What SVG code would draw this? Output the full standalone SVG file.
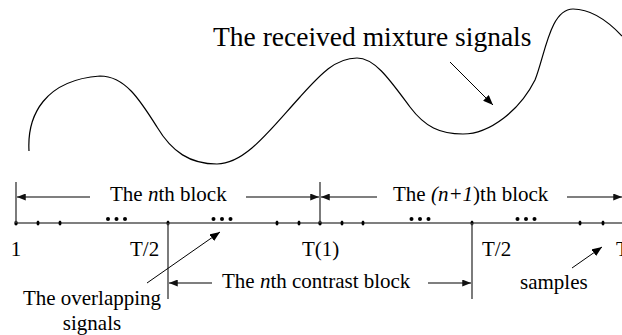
<svg xmlns="http://www.w3.org/2000/svg" width="622" height="335" viewBox="0 0 622 335">
<defs>
<marker id="ah" viewBox="0 0 10 8" refX="10" refY="4" markerWidth="10" markerHeight="8" markerUnits="userSpaceOnUse" orient="auto">
<path d="M0,0 L10,4 L0,8 z" fill="#000"/>
</marker>
<marker id="ahg" viewBox="0 0 10 8" refX="10" refY="4" markerWidth="9" markerHeight="7" markerUnits="userSpaceOnUse" orient="auto">
<path d="M0,0 L10,4 L0,8 z" fill="#111"/>
</marker>
<style>
text{font-family:"Liberation Serif","Times New Roman",serif;font-size:21px;fill:#000}
.big{font-size:27.5px}
.ln{stroke:#000;stroke-width:1.2;fill:none}
.gl{stroke:#444;stroke-width:1.4;fill:none}
.ga{stroke:#555;stroke-width:1.4;fill:none;marker-end:url(#ahg)}
.ba{stroke:#000;stroke-width:1;fill:none;marker-end:url(#ah)}
.tk{fill:#000}
</style>
</defs>
<rect width="622" height="335" fill="#fff"/>

<g id="wave">
<path class="ln" d="M29,151 C27,115 45,80 100,76 C125,76 140,100 157,127 C172,152 190,164 217,164 C245,164 270,130 300,97 C320,75 335,58 357,58 C375,58 390,80 410,107 C425,127 440,134 463,134 C490,134 520,110 535,80 C545,55 550,9 573,9 C590,9 605,18 622,36"/>
</g>
<g id="title"><text class="big" x="213" y="46">The received mixture signals</text></g>

<g id="axis">
<line class="ln" x1="16" y1="223" x2="622" y2="223"/>
<g class="tk">
<ellipse cx="16" cy="223" rx="1.7" ry="2.6"/>
<ellipse cx="38" cy="223" rx="1.5" ry="2.5"/>
<ellipse cx="60" cy="223" rx="1.5" ry="2.5"/>
<ellipse cx="168" cy="223" rx="1.5" ry="2.5"/>
<ellipse cx="277" cy="223" rx="1.5" ry="2.5"/>
<ellipse cx="299" cy="223" rx="1.5" ry="2.5"/>
<ellipse cx="320" cy="223" rx="1.7" ry="2.6"/>
<ellipse cx="342" cy="223" rx="1.5" ry="2.5"/>
<ellipse cx="363" cy="223" rx="1.5" ry="2.5"/>
<ellipse cx="472" cy="223" rx="1.5" ry="2.5"/>
<ellipse cx="580" cy="223" rx="1.5" ry="2.5"/>
<ellipse cx="603" cy="223" rx="1.5" ry="2.5"/>
<circle cx="108" cy="219" r="2"/><circle cx="116.5" cy="219" r="2"/><circle cx="125" cy="219" r="2"/>
<circle cx="213.5" cy="219" r="2"/><circle cx="222" cy="219" r="2"/><circle cx="230.5" cy="219" r="2"/>
<circle cx="411.5" cy="219" r="2"/><circle cx="420" cy="219" r="2"/><circle cx="428.5" cy="219" r="2"/>
<circle cx="517.5" cy="219" r="2"/><circle cx="526" cy="219" r="2"/><circle cx="534.5" cy="219" r="2"/>
</g>
<text x="16" y="256" text-anchor="middle">1</text>
<text x="130" y="256">T/2</text>
<text x="302" y="256">T(1)</text>
<text x="482" y="256">T/2</text>
<text x="616" y="256">T</text>
</g>

<g id="boundaries">
<line class="gl" x1="16" y1="182" x2="16" y2="223"/>
<line class="gl" x1="320" y1="182" x2="320" y2="223"/>
<line class="gl" x1="168" y1="223" x2="168" y2="299"/>
<line class="gl" x1="472" y1="223" x2="472" y2="299"/>
</g>

<g id="connectors">
<line class="ga" x1="90" y1="197" x2="17" y2="197"/>
<line class="ga" x1="246" y1="197" x2="319" y2="197"/>
<line class="ga" x1="377" y1="197" x2="321" y2="197"/>
<line class="ga" x1="567" y1="197" x2="622" y2="197"/>
<line class="ga" x1="212" y1="283" x2="169" y2="283"/>
<line class="ga" x1="428" y1="283" x2="471" y2="283"/>
<line class="ba" x1="147" y1="283" x2="220" y2="232"/>
<line class="ba" x1="572" y1="268" x2="602" y2="247"/>
<line class="ba" x1="450" y1="62" x2="493" y2="105"/>
</g>

<g id="nth-block"><text x="110" y="201">The <tspan font-style="italic">n</tspan>th block</text></g>
<g id="n1th-block"><text x="393" y="201">The <tspan font-style="italic">(n+1</tspan>)th block</text></g>
<g id="contrast-block"><text x="222" y="288">The <tspan font-style="italic">n</tspan>th contrast block</text></g>
<g id="overlap-label"><text x="92" y="305" text-anchor="middle">The overlapping</text><text x="92" y="330" text-anchor="middle">signals</text></g>
<g id="samples-label"><text x="520" y="289">samples</text></g>
</svg>
